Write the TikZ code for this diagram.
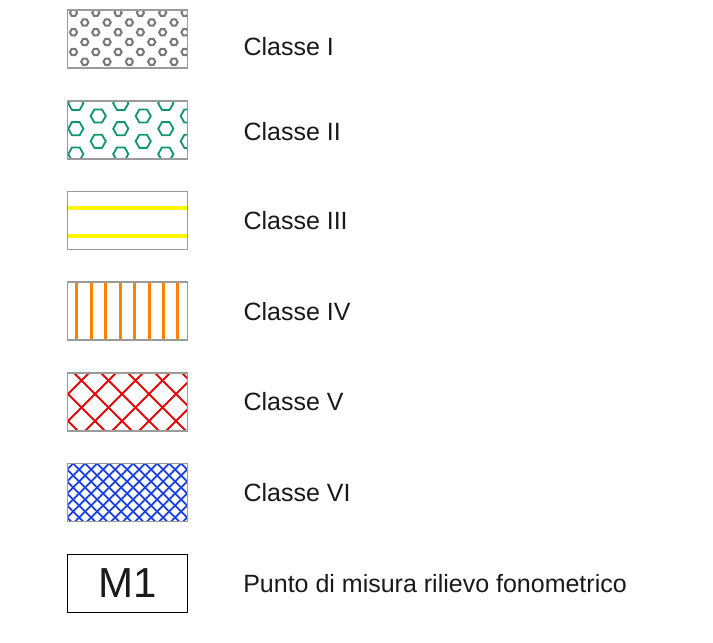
\documentclass[tikz,border=0pt]{standalone}
\usepackage{fontspec}
\setmainfont{Liberation Sans}
\usetikzlibrary{positioning}
\definecolor{boxgray}{RGB}{155,155,155}
\definecolor{hexgray}{RGB}{120,120,120}
\definecolor{hexgreen}{RGB}{15,150,110}
\definecolor{lineyellow}{RGB}{255,245,0}
\definecolor{lineorange}{RGB}{255,130,0}
\definecolor{hatchred}{RGB}{225,10,10}
\definecolor{hatchblue}{RGB}{25,65,225}
\definecolor{textdark}{RGB}{25,25,25}
% one hexagon ring, flat top; x,y measured from the box's top left corner
\newcommand{\hexring}[3]{\draw ({#1-60},{#2-29}) +(0:#3) -- +(60:#3) -- +(120:#3) -- +(180:#3) -- +(240:#3) -- +(300:#3) -- cycle;}
\tikzset{
  legbox/.style={draw=boxgray,line width=1.6pt,minimum width=120pt,minimum height=58pt,inner sep=0pt},
  leglabel/.style={font=\fontsize{25}{25}\selectfont,text=textdark,inner sep=0pt,anchor=west},
  class1/.style={path picture={
      \begin{scope}[hexgray,line width=2pt]
        \foreach \m in {0,...,3} \foreach \k in {0,...,5} {
          \hexring{6+22.3*\k}{2.7+19.6*\m}{3.6}
          \hexring{17.3+22.3*\k}{12.5+19.6*\m}{3.6}
        }
      \end{scope}}},
  class2/.style={path picture={
      \begin{scope}[hexgreen,line width=1.8pt]
        \foreach \m in {0,...,2} \foreach \k in {0,...,2} {
          \hexring{8.3+45*\k}{2.7+25.3*\m}{7.6}
          \hexring{30.7+45*\k}{15.3+25.3*\m}{7.6}
        }
      \end{scope}}},
  class3/.style={path picture={
      \begin{scope}[lineyellow,line width=4pt]
        \draw (-60,-12.7) -- (60,-12.7);
        \draw (-60,15.7) -- (60,15.7);
      \end{scope}}},
  class4/.style={path picture={
      \begin{scope}[lineorange,line width=3pt]
        \foreach \x in {9,23.7,38,52.7,67,81.7,95.7,110.3} \draw ({\x-60},-30) -- ({\x-60},30);
      \end{scope}}},
  class5/.style={path picture={
      \begin{scope}[hatchred,line width=2pt]
        \foreach \k in {-3,...,7} {
          \draw ({6.3+27*\k-60},-29) -- ++(62,62);
          \draw ({21.7+27*\k-60},-29) -- ++(-62,62);
        }
      \end{scope}}},
  class6/.style={path picture={
      \begin{scope}[hatchblue,line width=1.8pt]
        \foreach \k in {-6,...,16} {
          \draw ({5.7+12*\k-60},-29) -- ++(62,62);
          \draw ({5.7+12*\k-60},-29) -- ++(-62,62);
        }
      \end{scope}}},
}
\begin{document}
\begin{tikzpicture}[x=1pt,y=-1pt,node distance=90.7pt]
  \useasboundingbox (0,0) rectangle (713,643);
  \node[legbox,class1] (c1) at (127.5,39) {};
  \node[legbox,class2,below of=c1] (c2) {};
  \node[legbox,class3,below of=c2] (c3) {};
  \node[legbox,class4,below of=c3] (c4) {};
  \node[legbox,class5,below of=c4] (c5) {};
  \node[legbox,class6,below of=c5] (c6) {};
  \node[legbox,draw=black,line width=1.2pt,below of=c6,font=\fontsize{42}{42}\selectfont,text=textdark] (m1) {M1};
  \node[leglabel,right=55pt of c1,yshift=-8pt] (t1) {Classe I};
  \node[leglabel,right=55pt of c2,yshift=-2pt] (t2) {Classe II};
  \node[leglabel,right=55pt of c3] (t3) {Classe III};
  \node[leglabel,right=55pt of c4] (t4) {Classe IV};
  \node[leglabel,right=55pt of c5] (t5) {Classe V};
  \node[leglabel,right=55pt of c6] (t6) {Classe VI};
  \node[leglabel,right=55pt of m1] (t7) {Punto di misura rilievo fonometrico};
\end{tikzpicture}
\end{document}
